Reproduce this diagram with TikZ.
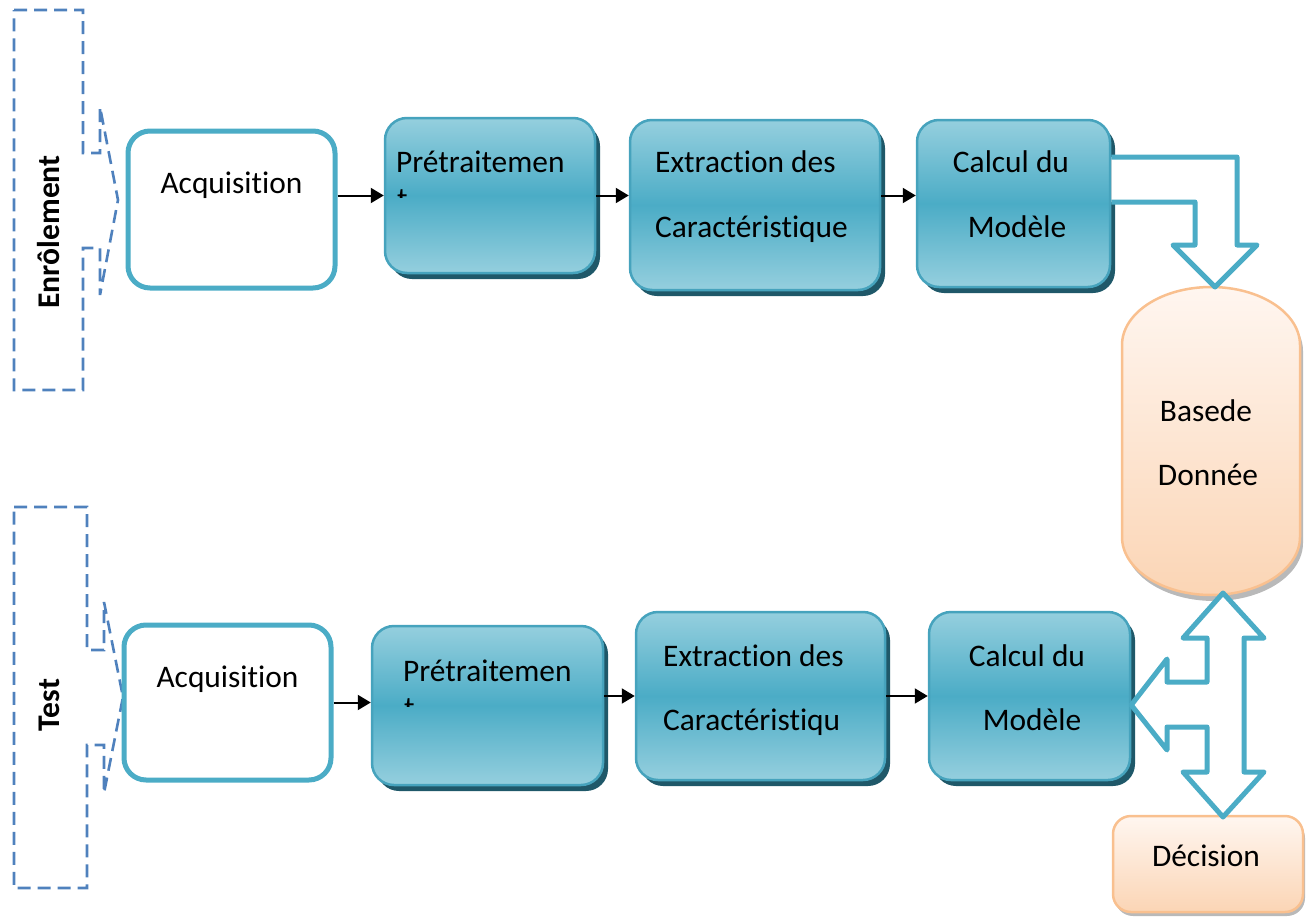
\documentclass[tikz,border=0pt]{standalone}
\usepackage{fontspec}
\setmainfont{Carlito}[Ligatures=NoCommon]
\usetikzlibrary{shadows,arrows.meta}
\definecolor{acc}{HTML}{4BACC6}
\definecolor{accl}{HTML}{95CFDE}
\definecolor{accb}{HTML}{46A3BD}
\definecolor{accd}{HTML}{1F5869}
\definecolor{dashblue}{HTML}{4F81BD}
\definecolor{peach}{HTML}{F9C08F}
\definecolor{peachl}{HTML}{FBD5B5}
\definecolor{peachw}{HTML}{FFF6F0}
\begin{document}
\begin{tikzpicture}[x=1pt,y=-1pt,
  font=\fontsize{31.4}{37.7}\selectfont,
  wbox/.style={draw=acc, line width=5pt, fill=white, rounded corners=22pt, inner sep=0pt},
  bbox/.style={draw=accb, line width=2.5pt, rounded corners=22pt, inner sep=0pt,
     top color=accl, bottom color=accl, middle color=acc,
     general shadow={fill=accd, shadow xshift=5pt, shadow yshift=-6pt}},
  pbox/.style={draw=peach, line width=2.5pt, rounded corners=18pt, inner sep=0pt,
     top color=peachw, bottom color=peachl,
     general shadow={fill=gray!55, shadow xshift=2pt, shadow yshift=-4pt}},
  txt/.style={anchor=base west, inner sep=0pt},
  ctxt/.style={anchor=base, inner sep=0pt},
  arr/.style={line width=2pt, -{Triangle[length=13pt,width=15pt]}},
  bigarr/.style={draw=acc, line width=5pt, fill=white, line join=round},
  brk/.style={draw=dashblue, line width=2.6pt, dash pattern=on 13pt off 7pt},
  lab/.style={rotate=90, anchor=base, inner sep=0pt, font=\fontsize{31.6}{38}\selectfont\bfseries}
]
\useasboundingbox (0,0) rectangle (1312,918);

% dashed callouts
\draw[brk] (14,10) -- (83,10) -- (83,153) -- (100,153) -- (100,107) -- (118,200) -- (100,295) -- (100,248) -- (83,248) -- (83,390) -- (14,390) -- cycle;
\draw[brk] (14,507) -- (87,507) -- (87,650) -- (104,650) -- (104,602) -- (123,697) -- (104,793) -- (104,745) -- (87,745) -- (87,888) -- (14,888) -- cycle;
\node[lab] (enr) at (59,232) {Enrôlement};
\node[lab] (tst) at (59,705) {Test};

% top row
\node[wbox, minimum width=207pt, minimum height=157pt] (a1) at (231.5,209.5) {};
\node[bbox, minimum width=210pt, minimum height=155pt] (p1) at (490,195.5) {};
\node[bbox, minimum width=250pt, minimum height=170pt] (e1) at (755,205) {};
\node[bbox, minimum width=193pt, minimum height=167pt] (c1) at (1013.5,203.5) {};

\node[ctxt] (a1t) at (231.5,193) {Acquisition};
\node[txt] (p1t) at (396,172) {Prétraitemen};
\begin{scope}
\clip (390,186) rectangle (420,197);
\node[txt] (p1u) at (397,209) {t};
\end{scope}
\node[txt] (e1t) at (655,172) {Extraction des};
\node[txt] (e1u) at (655,237) {Caractéristique};
\node[ctxt] (c1t) at (1011,172) {Calcul du};
\node[ctxt] (c1u) at (1017,237) {Modèle};

\draw[arr] (a1.east |- p1.west) -- (p1.west);
\draw[arr] (p1.east) -- (p1.east -| e1.west);
\draw[arr] (e1.east |- p1.east) -- (c1.west |- p1.east);

% bottom row
\node[wbox, minimum width=207pt, minimum height=155pt] (a2) at (227.5,702.5) {};
\node[bbox, minimum width=231pt, minimum height=159pt] (p2) at (487.5,705.5) {};
\node[bbox, minimum width=249pt, minimum height=168pt] (e2) at (760.5,696) {};
\node[bbox, minimum width=201pt, minimum height=168pt] (c2) at (1029.5,696) {};

\node[ctxt] (a2t) at (227.5,687) {Acquisition};
\node[txt] (p2t) at (403,681) {Prétraitemen};
\begin{scope}
\clip (397,695) rectangle (427,706);
\node[txt] (p2u) at (404,718) {t};
\end{scope}
\node[txt] (e2t) at (663,666) {Extraction des};
\node[txt] (e2u) at (663,730) {Caractéristiqu};
\node[ctxt] (c2t) at (1027,666) {Calcul du};
\node[ctxt] (c2u) at (1032,730) {Modèle};

\draw[arr] (a2.east) -- (a2.east -| p2.west);
\draw[arr] (p2.east |- e2.west) -- (e2.west);
\draw[arr] (e2.east) -- (c2.west);

% database cylinder
\fill[gray!55, shift={(3,6)}] (1122,345) -- (1122,537)
  .. controls (1122,569) and (1161.8,595) .. (1211,595)
  .. controls (1260.2,595) and (1300,569) .. (1300,537) -- (1300,345)
  .. controls (1300,313) and (1260.2,287) .. (1211,287)
  .. controls (1161.8,287) and (1122,313) .. (1122,345) -- cycle;
\draw[draw=peach, line width=2.5pt, top color=peachw, bottom color=peachl] (1122,345) -- (1122,537)
  .. controls (1122,569) and (1161.8,595) .. (1211,595)
  .. controls (1260.2,595) and (1300,569) .. (1300,537) -- (1300,345)
  .. controls (1300,313) and (1260.2,287) .. (1211,287)
  .. controls (1161.8,287) and (1122,313) .. (1122,345) -- cycle;
\node[inner sep=0pt, minimum size=1pt] (db) at (1211,440) {};
\node[ctxt] (dbt) at (1206,421) {Basede};
\node[ctxt] (dbu) at (1208,485) {Donnée};

% decision
\node[pbox, minimum width=190pt, minimum height=96pt] (dec) at (1208,864) {};
\node[ctxt] (dect) at (1206,866) {Décision};

% block arrows
\draw[bigarr] ([yshift=46.5pt]c1.east) -- (1237,157) -- (1237,245) -- (1257,245) -- (1215,287) -- (1173,245) -- (1195,245) -- (1195,202) -- ([yshift=1.5pt]c1.east);
\draw[bigarr] (1223,593) -- (1264,638) -- (1244,638) -- (1244,772) -- (1264,772) -- (1223,817) -- (1183,772) -- (1207,772) -- (1207,727) -- (1167,727) -- (1167,750) -- ([yshift=-9pt]c2.east) -- (1167,659) -- (1167,682) -- (1207,682) -- (1207,638) -- (1183,638) -- cycle;
\end{tikzpicture}
\end{document}
